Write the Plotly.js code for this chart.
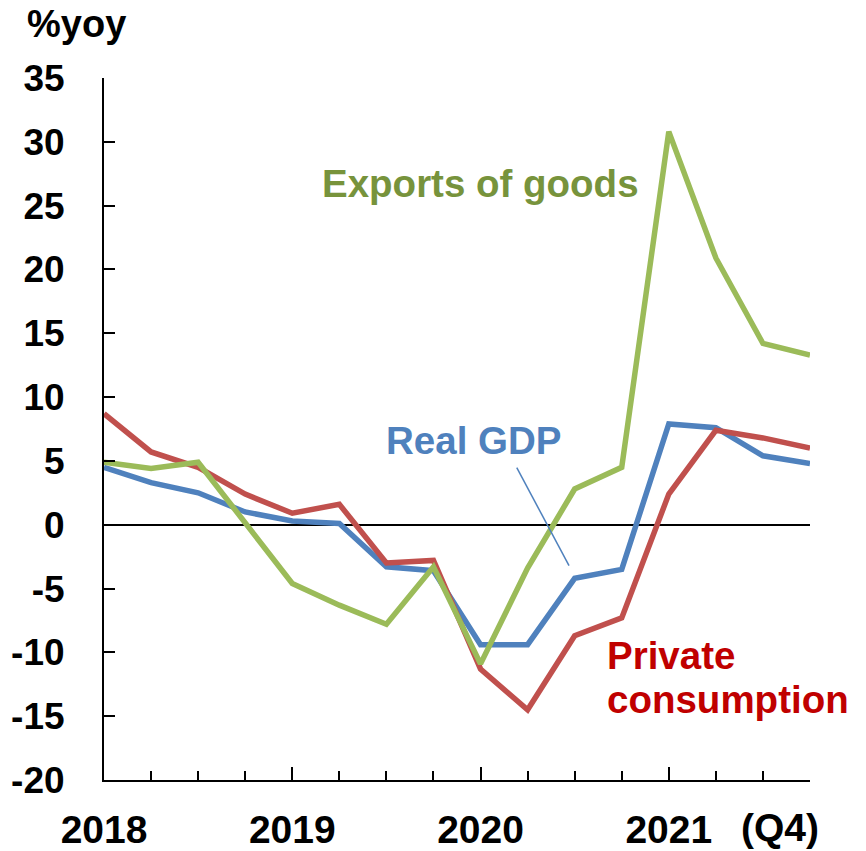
<!DOCTYPE html>
<html>
<head>
<meta charset="utf-8">
<script src="https://cdn.plot.ly/plotly-3.0.1.min.js"></script>
<style>
  html, body { margin: 0; padding: 0; background: #ffffff; }
  #chart { width: 866px; height: 851px; }
</style>
</head>
<body>
<div id="chart"></div>
<script>
// Quarters 2018Q1 .. 2021Q4 (index 0..15)
const quarters = ["2018Q1","2018Q2","2018Q3","2018Q4","2019Q1","2019Q2","2019Q3","2019Q4",
                  "2020Q1","2020Q2","2020Q3","2020Q4","2021Q1","2021Q2","2021Q3","2021Q4"];
const realGDP = [4.5, 3.3, 2.5, 1.0, 0.3, 0.1, -3.3, -3.6, -9.4, -9.4, -4.2, -3.5, 7.9, 7.6, 5.4, 4.8];
const privateConsumption = [8.7, 5.7, 4.5, 2.4, 0.9, 1.6, -3.0, -2.8, -11.3, -14.5, -8.7, -7.3, 2.4, 7.4, 6.8, 6.0];
const exportsOfGoods = [4.9, 4.4, 4.9, 0.1, -4.6, -6.3, -7.8, -3.3, -10.9, -3.4, 2.8, 4.5, 30.8, 20.9, 14.2, 13.3];
const yearTickVals = [0, 4, 8, 12];
const yearTickText = ["2018", "2019", "2020", "2021"];
const yTickVals = [-20, -15, -10, -5, 0, 5, 10, 15, 20, 25, 30, 35];
const yTickText = ["-20", "-15", "-10", "-5", "0", "5", "10", "15", "20", "25", "30", "35"];

const xIdx = quarters.map((q, i) => i);
const FONT = "Liberation Sans, Arial, sans-serif";

const traces = [
  { x: xIdx, y: realGDP, type: "scatter", mode: "lines", name: "Real GDP",
    line: { color: "#4F81BD", width: 5.5 }, hoverinfo: "skip" },
  { x: xIdx, y: privateConsumption, type: "scatter", mode: "lines", name: "Private consumption",
    line: { color: "#C0504D", width: 5.5 }, hoverinfo: "skip" },
  { x: xIdx, y: exportsOfGoods, type: "scatter", mode: "lines", name: "Exports of goods",
    line: { color: "#9BBB59", width: 5.5 }, hoverinfo: "skip" }
];

const layout = {
  width: 866, height: 851,
  margin: { l: 104, r: 56, t: 78, b: 71 },
  paper_bgcolor: "#ffffff", plot_bgcolor: "#ffffff",
  showlegend: false,
  font: { family: FONT, color: "#000000" },
  xaxis: {
    range: [0, 15], showgrid: false, zeroline: false,
    showline: true, linecolor: "#000000", linewidth: 2,
    tickmode: "array", tickvals: yearTickVals, ticktext: yearTickText,
    ticks: "inside", ticklen: 13, tickwidth: 2, tickcolor: "#000000",
    minor: { tickmode: "linear", tick0: 0, dtick: 1, ticks: "inside", ticklen: 9, tickwidth: 2, tickcolor: "#000000", showgrid: false },
    tickfont: { family: FONT, size: 39, color: "#000000", weight: "bold" },
    ticklabelstandoff: 14,
    fixedrange: true
  },
  yaxis: {
    range: [-20, 35], showgrid: false,
    zeroline: true, zerolinecolor: "#000000", zerolinewidth: 2,
    showline: true, linecolor: "#000000", linewidth: 2,
    tickmode: "array", tickvals: yTickVals, ticktext: yTickText,
    ticks: "inside", ticklen: 11, tickwidth: 2, tickcolor: "#000000",
    tickfont: { family: FONT, size: 37, color: "#000000", weight: "bold" },
    ticklabelstandoff: 30,
    fixedrange: true
  },
  annotations: [
    { xref: "paper", yref: "paper", x: -0.112, y: 1.0775, xanchor: "left", yanchor: "middle",
      text: "<b>%yoy</b>", showarrow: false, font: { family: FONT, size: 38, color: "#000000" } },
    { xref: "x", yref: "paper", x: 14.36, y: 0, yshift: -47, xanchor: "center", yanchor: "middle",
      text: "<b>(Q4)</b>", showarrow: false, font: { family: FONT, size: 39, color: "#000000" } },
    { xref: "x", yref: "y", x: 8.0, y: 26.7, xanchor: "center", yanchor: "middle",
      text: "<b>Exports of goods</b>", showarrow: false, font: { family: FONT, size: 38.5, color: "#77933C" } },
    { xref: "x", yref: "y", x: 7.85, y: 6.63, xanchor: "center", yanchor: "middle",
      text: "<b>Real GDP</b>", showarrow: false, font: { family: FONT, size: 38.5, color: "#4F81BD" } },
    { xref: "x", yref: "y", x: 10.64, y: -10.24, xanchor: "left", yanchor: "middle",
      text: "<b>Private</b>", showarrow: false, font: { family: FONT, size: 38.5, color: "#C00000" } },
    { xref: "x", yref: "y", x: 10.64, y: -13.7, xanchor: "left", yanchor: "middle",
      text: "<b>consumption</b>", showarrow: false, font: { family: FONT, size: 38.5, color: "#C00000" } }
  ],
  shapes: [
    { type: "line", xref: "x", yref: "y", x0: 8.77, y0: 4.47, x1: 9.88, y1: -3.2,
      line: { color: "#4F81BD", width: 1.5 } }
  ]
};

Plotly.newPlot("chart", traces, layout, { staticPlot: true, displayModeBar: false });
</script>
</body>
</html>
